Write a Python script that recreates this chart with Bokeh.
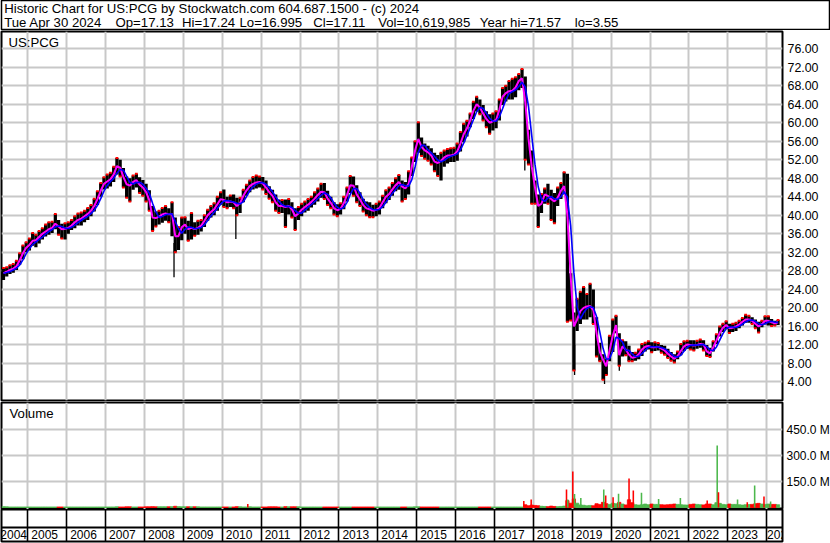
import pandas as pd
from bokeh.plotting import figure
from bokeh.layouts import column
from bokeh.models import (Range1d, FixedTicker, Grid, LinearAxis, NumeralTickFormatter,
                          Label, ColumnDataSource, Span)
from bokeh.embed import file_html
from bokeh.resources import INLINE

FONT = "Liberation Sans"

# ------------------------------------------------------------------ data
title_line = "Historic Chart for US:PCG by Stockwatch.com 604.687.1500 - (c) 2024"
quote_items = ["Tue Apr 30 2024", "Op=17.13", "Hi=17.24", "Lo=16.995", "Cl=17.11",
               "Vol=10,619,985", "Year hi=71.57", "lo=3.55"]
symbol_label = "US:PCG"
volume_label = "Volume"
start_month = "2004-05"

# monthly level of the short moving average (magenta), monthly high / low
price_avg = [
    27.5, 27.8, 28.2, 28.5, 29.0, 30.3, 31.8, 33.0,
    33.6, 34.5, 34.6, 35.3, 36.0, 36.5, 37.0, 37.3, 38.2, 37.6, 37.0, 37.1,
    37.3, 37.8, 38.5, 39.0, 39.3, 39.8, 40.3, 41.0, 42.0, 43.5, 45.3, 46.8,
    47.3, 47.8, 48.8, 50.6, 50.3, 48.3, 46.7, 46.4, 47.2, 47.6, 46.6, 46.0,
    45.0, 43.3, 39.5, 39.4, 39.7, 40.2, 40.4, 40.2, 40.3, 35.5, 35.5, 37.4,
    38.0, 37.0, 37.3, 37.0, 37.3, 37.8, 38.8, 40.0, 40.7, 41.3, 42.4, 43.5,
    43.3, 42.8, 43.0, 42.8, 42.0, 42.6, 44.2, 45.4, 46.3, 46.8, 47.1, 47.2,
    46.9, 46.0, 45.0, 44.2, 42.8, 42.0, 42.0, 41.8, 42.0, 41.3, 39.8, 40.4,
    41.2, 41.8, 42.3, 42.9, 43.6, 44.4, 45.1, 45.0, 43.6, 42.7, 41.5, 41.1,
    41.4, 42.6, 44.4, 46.5, 46.4, 44.5, 43.4, 42.2, 41.5, 41.3, 41.0, 41.2,
    41.6, 42.8, 44.0, 44.6, 45.6, 46.5, 47.2, 46.2, 45.8, 46.8, 50.5, 54.0,
    56.5, 54.8, 54.0, 53.6, 52.9, 51.6, 51.3, 51.8, 52.5, 52.9, 52.9, 53.1,
    53.8, 55.5, 57.5, 58.8, 60.5, 62.6, 64.0, 63.3, 62.0, 60.8, 60.0, 60.3,
    60.6, 62.8, 65.6, 66.4, 66.8, 66.9, 67.6, 69.0, 69.6, 64.5, 56.5, 50.5,
    46.0, 42.0, 42.5, 44.5, 44.2, 43.5, 43.0, 43.8, 45.3, 46.3, 40.0, 27.0,
    16.0, 17.5, 19.3, 20.0, 20.3, 20.4, 19.5, 14.5, 10.5, 8.8, 7.4, 10.8,
    14.0, 16.3, 9.8, 11.7, 11.0, 9.9, 9.2, 9.4, 10.0, 11.0, 11.6, 11.8,
    11.5, 11.5, 11.6, 11.2, 10.8, 10.1, 9.5, 9.0, 9.6, 10.7, 11.7, 12.1,
    12.0, 11.9, 12.0, 12.2, 12.1, 10.6, 10.2, 11.5, 13.0, 14.6, 15.7, 16.3,
    15.6, 15.7, 16.0, 16.4, 17.0, 17.5, 17.5, 17.2, 16.6, 16.0, 16.5, 17.2,
    17.2, 16.9, 16.7, 16.9,
]
price_hi = [
    28.6, 28.8, 29.2, 29.5, 30.2, 31.8, 33.5, 34.2,
    35.0, 36.2, 35.8, 36.6, 37.2, 38.0, 38.5, 38.6, 40.3, 39.0, 38.2, 38.3,
    38.5, 39.0, 39.8, 40.4, 40.6, 41.0, 41.6, 42.2, 43.6, 45.2, 47.0, 48.2,
    48.8, 49.2, 50.5, 52.4, 52.0, 50.2, 48.4, 48.0, 48.6, 49.0, 48.2, 47.6,
    46.8, 45.4, 42.0, 40.8, 41.0, 41.6, 42.0, 41.5, 42.8, 39.5, 37.5, 39.5,
    39.6, 38.8, 40.5, 38.5, 38.8, 39.0, 40.0, 41.2, 42.0, 42.6, 44.0, 45.0,
    45.6, 44.0, 44.3, 44.5, 43.8, 43.8, 45.5, 46.6, 47.5, 48.3, 48.6, 48.4,
    48.3, 47.5, 46.3, 45.5, 44.5, 43.4, 43.3, 43.4, 43.5, 42.8, 41.5, 41.8,
    42.5, 43.0, 43.5, 44.0, 45.0, 45.8, 46.8, 47.0, 45.3, 44.0, 42.8, 42.4,
    42.6, 44.0, 46.0, 48.5, 48.4, 46.5, 45.0, 43.6, 43.0, 42.8, 42.3, 42.5,
    43.0, 44.2, 45.4, 46.0, 47.0, 48.0, 48.7, 47.5, 47.2, 49.5, 52.5, 56.0,
    60.1, 56.8, 55.5, 55.0, 54.5, 53.5, 53.0, 53.5, 54.0, 54.3, 54.5, 54.6,
    55.5, 58.0, 59.8, 60.4, 62.0, 64.5, 65.6, 65.0, 63.8, 62.5, 61.8, 62.0,
    62.5, 65.0, 67.5, 68.0, 69.0, 69.5, 69.8, 70.5, 71.6, 70.0, 58.5, 54.0,
    47.5, 44.5, 44.6, 45.8, 46.8, 45.5, 44.8, 46.0, 47.0, 49.3, 49.0, 27.5,
    19.0, 22.0, 23.5, 24.5, 23.0, 25.2, 24.0, 18.0, 12.5, 10.0, 9.0, 14.0,
    17.5, 18.3, 14.5, 13.0, 12.8, 11.8, 10.5, 10.3, 11.0, 12.2, 12.5, 12.8,
    12.6, 12.6, 12.4, 12.0, 11.8, 11.2, 10.5, 10.0, 10.6, 12.2, 12.8, 12.9,
    13.0, 13.0, 12.9, 13.2, 13.0, 12.0, 11.4, 12.8, 14.3, 16.0, 16.6, 17.1,
    16.6, 16.6, 16.8, 17.2, 17.8, 18.5, 18.3, 18.0, 17.5, 17.0, 17.2, 18.2,
    18.2, 17.6, 17.2, 17.4,
]
price_lo = [
    26.0, 26.8, 27.3, 27.6, 28.2, 29.3, 30.5, 32.0,
    32.4, 33.4, 33.1, 33.9, 34.8, 35.4, 35.8, 36.2, 37.0, 35.8, 35.0, 34.8,
    36.0, 36.8, 37.2, 37.8, 37.8, 38.5, 39.0, 39.8, 40.8, 42.2, 44.0, 45.6,
    45.8, 46.2, 47.2, 48.8, 48.4, 46.0, 43.8, 43.0, 45.5, 46.0, 44.8, 44.2,
    43.0, 41.0, 36.6, 37.6, 38.0, 38.4, 38.8, 38.5, 35.5, 32.0, 32.5, 34.6,
    36.0, 34.5, 34.8, 35.6, 35.8, 36.5, 37.5, 38.8, 39.5, 40.0, 41.0, 42.3,
    41.8, 41.5, 41.8, 41.5, 40.0, 40.5, 42.8, 44.2, 45.0, 45.6, 45.8, 46.0,
    45.6, 44.6, 43.6, 42.8, 41.0, 40.5, 40.5, 37.5, 40.2, 39.5, 36.8, 39.0,
    39.8, 40.6, 41.0, 41.7, 42.3, 43.0, 43.8, 43.5, 42.2, 41.5, 40.2, 39.8,
    40.2, 41.3, 43.0, 44.8, 44.2, 42.8, 42.0, 40.8, 40.0, 39.6, 39.6, 39.8,
    40.2, 41.5, 42.6, 43.3, 44.2, 45.2, 45.5, 43.0, 43.5, 44.5, 48.5, 51.5,
    53.5, 52.8, 52.2, 51.8, 51.0, 49.5, 48.5, 47.5, 50.5, 51.2, 51.5, 51.5,
    51.8, 53.8, 55.8, 57.0, 59.0, 60.8, 62.4, 61.8, 60.5, 59.0, 57.6, 58.3,
    58.8, 60.5, 63.8, 64.6, 65.0, 65.0, 65.5, 67.0, 67.5, 52.0, 51.0, 42.5,
    42.5, 37.5, 40.5, 42.5, 42.5, 39.0, 38.3, 42.0, 43.5, 44.5, 17.0, 17.3,
    6.5, 15.0, 16.5, 17.5, 17.5, 18.0, 16.5, 9.5, 8.5, 4.5, 5.5, 8.5,
    10.5, 14.5, 7.5, 9.5, 9.8, 8.5, 8.5, 8.6, 8.9, 9.6, 10.6, 11.0,
    10.4, 10.7, 10.8, 10.3, 9.9, 9.2, 8.6, 8.2, 8.9, 9.8, 10.7, 11.2,
    11.0, 10.8, 11.2, 11.4, 10.8, 9.6, 9.4, 10.6, 12.2, 13.8, 14.8, 15.4,
    14.6, 14.8, 15.0, 15.6, 16.2, 16.8, 16.8, 16.5, 15.6, 14.7, 15.8, 16.4,
    16.2, 16.1, 16.2, 16.3,
]
# single-day extremes (fractional year, low, high)
spike_date = [2008.76, 2010.35, 2017.78, 2019.06, 2019.83, 2020.21]
spike_lo = [26.6, 34.9, 49.7, 5.5, 3.55, 6.4]
spike_hi = [34.0, 41.5, 68.8, 12.0, 7.5, 9.5]

# typical daily volume per month, millions of shares
volume_m = [
    5, 4, 3, 3, 3, 3, 3, 3,
    3, 3, 3, 3, 3, 3, 3, 3, 3, 3, 3, 3,
    3, 3, 3, 3, 3, 3, 3, 3, 3, 3, 3, 3,
    3, 3, 3, 4, 3, 3, 4, 4, 3, 3, 3, 3,
    4, 4, 5, 4, 4, 4, 4, 4, 5, 7, 5, 4,
    4, 4, 4, 4, 4, 3, 3, 3, 3, 3, 3, 3,
    3, 3, 3, 3, 5, 4, 3, 3, 4, 3, 3, 3,
    3, 3, 4, 4, 4, 3, 3, 5, 4, 4, 4, 4,
    3, 3, 3, 3, 3, 3, 3, 3, 3, 3, 3, 3,
    3, 3, 3, 3, 3, 3, 3, 3, 3, 3, 3, 3,
    3, 3, 3, 3, 3, 3, 3, 3, 3, 3, 3, 4,
    4, 3, 3, 3, 3, 3, 3, 3, 3, 3, 3, 3,
    3, 3, 3, 3, 3, 3, 3, 3, 3, 3, 3, 3,
    3, 3, 3, 3, 3, 3, 3, 3, 3, 16, 10, 14,
    12, 10, 7, 6, 5, 8, 6, 5, 6, 8, 40, 25,
    50, 25, 15, 13, 10, 12, 10, 22, 18, 30, 22, 18,
    25, 22, 30, 20, 15, 45, 28, 16, 14, 16, 20, 16,
    20, 18, 18, 16, 15, 16, 18, 20, 18, 16, 15, 14,
    18, 20, 18, 16, 15, 20, 20, 16, 28, 24, 18, 16,
    20, 18, 18, 16, 14, 16, 17, 18, 22, 24, 20, 18,
    20, 18, 18, 16,
]
# single-day volume spikes (fractional year, millions, up-day flag)
vspike_date = [2010.657, 2017.754, 2017.944, 2018.852, 2018.885, 2019.014, 2019.058,
               2019.22, 2019.81, 2019.86, 2020.05, 2020.19, 2020.46, 2020.57, 2020.78,
               2021.22, 2021.78, 2022.47, 2022.727, 2022.76, 2023.25, 2023.50, 2023.69,
               2023.93, 2024.10]
vspike_val = [21, 37, 46, 104, 46, 209, 79, 55, 105, 70, 60, 80, 168, 99, 85,
              50, 55, 41, 360, 89, 46, 31, 128, 64, 35]
vspike_up = [0, 0, 0, 0, 1, 0, 1, 1, 1, 0, 0, 1, 0, 0, 1, 1, 1, 0, 1, 0, 1, 0, 1, 0, 1]

year_labels = ["2004", "2005", "2006", "2007", "2008", "2009", "2010", "2011", "2012",
               "2013", "2014", "2015", "2016", "2017", "2018", "2019", "2020", "2021",
               "2022", "2023", "2024"]
price_ticks = [4, 8, 12, 16, 20, 24, 28, 32, 36, 40, 44, 48, 52, 56, 60, 64, 68, 72, 76]
volume_ticks = [150, 300, 450]
volume_tick_labels = ["150.0 M", "300.0 M", "450.0 M"]

assert len(price_avg) == len(price_hi) == len(price_lo) == len(volume_m) == 240

# ------------------------------------------------------------------ derived
months = pd.date_range(start_month, periods=len(price_avg), freq="MS")
xm = list(months.year + (months.month - 0.5) / 12.0)
ma_long = list(pd.Series(price_avg).rolling(3, min_periods=1).mean())
up = [True] + [price_avg[i] >= price_avg[i - 1] for i in range(1, len(price_avg))]
red_y = [price_hi[i] if up[i] else price_lo[i] for i in range(len(price_avg))]
vol_color = ["#4cb84c" if u else "#ff0000" for u in up]
vsp_color = ["#4cb84c" if u else "#ff0000" for u in vspike_up]
year_bounds = [int(y) for y in year_labels[1:]]

X0, X1 = 2004.324, 2024.406
GRID = "#c8c8c8"
FRAME_W = 781
RIGHT = 48
LBL_SIZE = "12.4px"
VOL_LBL_SIZE = "12px"
YEAR_SIZE = "12px"
HDR_SIZE = "13.2px"


def base_fig(**kw):
    p = figure(toolbar_location=None, output_backend="svg",
               x_axis_location=None, y_axis_location=None,
               background_fill_color="white", border_fill_color="white",
               outline_line_color="black", **kw)
    p.grid.visible = False
    return p


# ------------------------------------------------------------------ header
hdr = base_fig(frame_width=828, frame_height=30, min_border_left=0, min_border_right=2,
               min_border_top=0, min_border_bottom=0,
               x_range=Range1d(0, 828), y_range=Range1d(30, 0))
hdr.outline_line_width = 1.5
hdr.add_layout(Label(x=2.7, y=8.2, text=title_line, text_font=FONT,
                     text_font_size=HDR_SIZE, text_baseline="middle", text_color="black"))
item_x = [2.7, 114.0, 180.5, 238.0, 311.7, 376.7, 478.3, 573.3]
for tx, t in zip(item_x, quote_items):
    hdr.add_layout(Label(x=tx, y=21.6, text=t, text_font=FONT, text_font_size=HDR_SIZE,
                         text_baseline="middle", text_color="black"))

# ------------------------------------------------------------------ price panel
P_TOP = 79.7
pp = base_fig(frame_width=FRAME_W, frame_height=369, min_border_left=1,
              min_border_right=RIGHT, min_border_top=1, min_border_bottom=1,
              x_range=Range1d(X0, X1), y_range=Range1d(0, P_TOP))
pp.outline_line_width = 2
pp.add_layout(Grid(dimension=0, ticker=FixedTicker(ticks=year_bounds),
                   grid_line_color=GRID, grid_line_width=2))
pp.add_layout(Grid(dimension=1, ticker=FixedTicker(ticks=price_ticks),
                   grid_line_color=GRID, grid_line_width=2))
pax = LinearAxis(ticker=FixedTicker(ticks=price_ticks),
                 formatter=NumeralTickFormatter(format="0.00"),
                 axis_line_color=None, major_tick_line_color=None,
                 minor_tick_line_color=None, major_tick_out=0, major_tick_in=0,
                 major_label_standoff=5, major_label_text_font=FONT,
                 major_label_text_font_size=LBL_SIZE, major_label_text_color="black")
pp.add_layout(pax, "right")

src = ColumnDataSource(dict(x=xm, hi=price_hi, lo=price_lo, avg=price_avg,
                            ma=ma_long, red=red_y))
pp.vbar(x="x", top="hi", bottom="lo", width=1 / 12, source=src,
        fill_color="black", line_color=None)
pp.segment(x0=spike_date, y0=spike_lo, x1=spike_date, y1=spike_hi,
           line_color="black", line_width=1.3)
pp.rect(x="x", y="red", width=1 / 14, height=2, height_units="screen", source=src,
        fill_color="#ff0000", line_color=None)
pp.line(x="x", y="avg", source=src, line_color="#ff00ff", line_width=2)
pp.line(x="x", y="ma", source=src, line_color="#0000ff", line_width=1.6)
pp.add_layout(Label(x=X0, y=P_TOP, x_offset=7, y_offset=-10.5, text=symbol_label,
                    text_font=FONT, text_font_size=HDR_SIZE, text_baseline="middle",
                    text_color="black"))

# ------------------------------------------------------------------ volume panel
V_LO, V_HI = -11.6, 609
vp = base_fig(frame_width=FRAME_W, frame_height=107, min_border_left=1,
              min_border_right=RIGHT, min_border_top=1, min_border_bottom=0,
              x_range=pp.x_range, y_range=Range1d(V_LO, V_HI))
vp.outline_line_width = 2
vp.add_layout(Grid(dimension=0, ticker=FixedTicker(ticks=year_bounds),
                   grid_line_color=GRID, grid_line_width=2))
vp.add_layout(Grid(dimension=1, ticker=FixedTicker(ticks=volume_ticks),
                   grid_line_color=GRID, grid_line_width=2))
vax = LinearAxis(ticker=FixedTicker(ticks=volume_ticks),
                 major_label_overrides=dict(zip(volume_ticks, volume_tick_labels)),
                 axis_line_color=None, major_tick_line_color=None,
                 minor_tick_line_color=None, major_tick_out=0, major_tick_in=0,
                 major_label_standoff=4, major_label_text_font=FONT,
                 major_label_text_font_size=VOL_LBL_SIZE, major_label_text_color="black")
vp.add_layout(vax, "right")
vsrc = ColumnDataSource(dict(x=xm, v=volume_m, c=vol_color))
vp.vbar(x="x", top="v", bottom=0, width=1 / 12, source=vsrc,
        fill_color="c", line_color="c", line_width=0.8)
vp.vbar(x=vspike_date, top=vspike_val, bottom=0, width=0.04,
        fill_color=vsp_color, line_color=None)
vp.add_layout(Label(x=X0, y=V_HI, x_offset=8, y_offset=-10.5, text=volume_label,
                    text_font=FONT, text_font_size=HDR_SIZE, text_baseline="middle",
                    text_color="black"))

# ------------------------------------------------------------------ year rows
yp = base_fig(frame_width=FRAME_W, frame_height=32, min_border_left=1,
              min_border_right=RIGHT, min_border_top=0, min_border_bottom=2,
              x_range=pp.x_range, y_range=Range1d(0, 1))
yp.outline_line_width = 2
yp.add_layout(Grid(dimension=0, ticker=FixedTicker(ticks=year_bounds),
                   grid_line_color="black", grid_line_width=1.6))
yp.add_layout(Span(location=0.44, dimension="width", line_color="black", line_width=2))
for i, lab in enumerate(year_labels):
    if i == 0:
        lx, align = int(year_labels[1]) - 0.02, "right"
    elif i == len(year_labels) - 1:
        lx, align = int(lab) + 0.01, "left"
    else:
        lx, align = int(lab) + 0.09, "left"
    yp.add_layout(Label(x=lx, y=0.21, text=lab, text_align=align, text_baseline="middle",
                        text_font=FONT, text_font_size=YEAR_SIZE, text_color="black"))

layout = column(hdr, pp, vp, yp, spacing=0)
open("out.html", "w").write(file_html(layout, INLINE))
